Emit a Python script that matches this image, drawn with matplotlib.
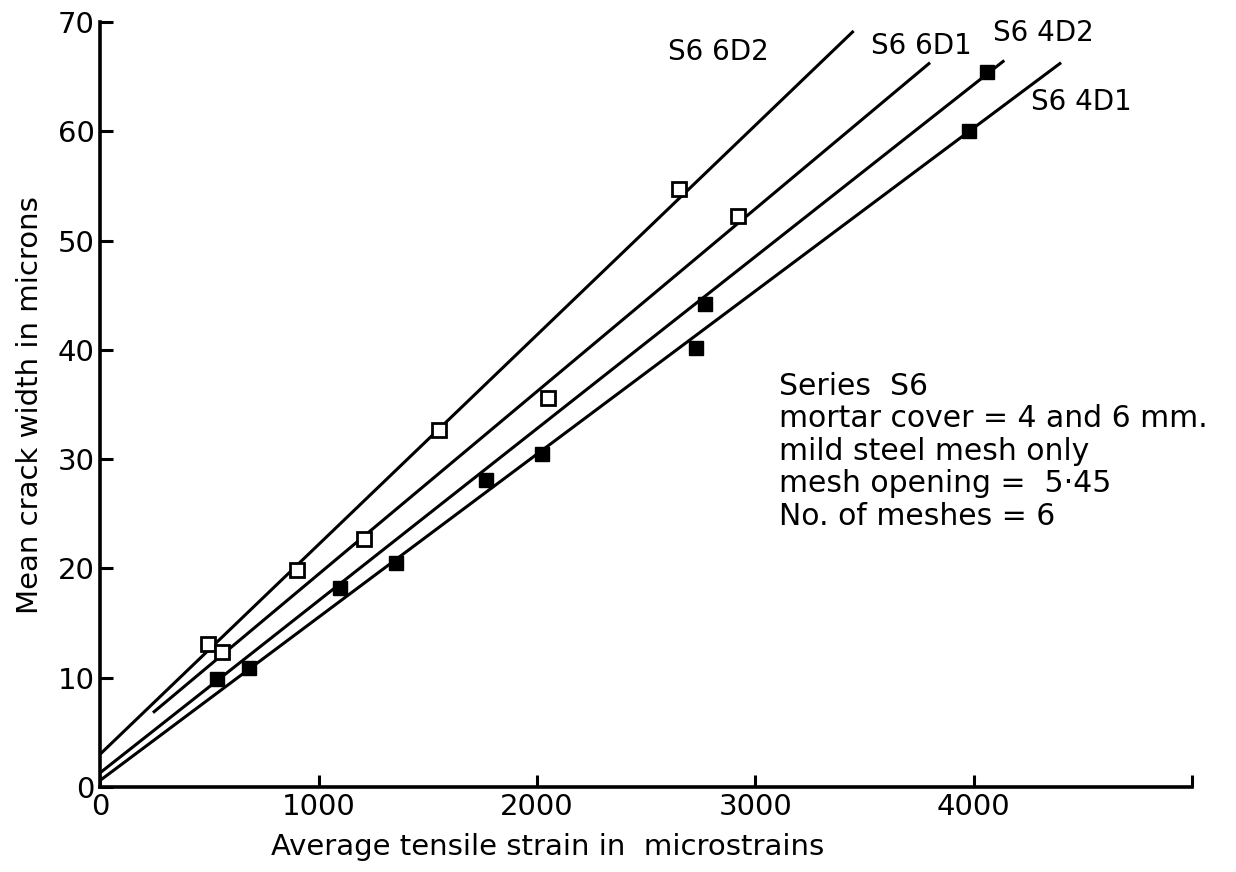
import matplotlib
matplotlib.use('Agg')
import matplotlib.pyplot as plt

# measured points (microstrain, microns)
d2_6_x = [493, 900, 1550, 2650]
d2_6_y = [13.1, 19.9, 32.7, 54.7]
d1_6_x = [560, 1210, 2050, 2920]
d1_6_y = [12.4, 22.7, 35.6, 52.3]
d2_4_x = [533, 1100, 1766, 2770, 4060]
d2_4_y = [9.9, 18.2, 28.1, 44.2, 65.4]
d1_4_x = [681, 1356, 2021, 2730, 3977]
d1_4_y = [10.9, 20.5, 30.5, 40.2, 60.0]

# hand-drawn fit lines (end points)
fit_6d2 = ([0, 3450], [3.0, 69.2])
fit_6d1 = ([242, 3800], [6.8, 66.3])
fit_4d2 = ([0, 4140], [1.3, 66.5])
fit_4d1 = ([0, 4400], [0.6, 66.3])

line_labels = ['S6 6D2', 'S6 6D1', 'S6 4D2', 'S6 4D1']
label_pos = [(2600, 67.3), (3530, 67.8), (4090, 69.0), (4260, 62.7)]

note = ('Series  S6\nmortar cover = 4 and 6 mm.\nmild steel mesh only\n'
        'mesh opening =  5·45\nNo. of meshes = 6')

xticks = [0, 1000, 2000, 3000, 4000, 5000]
xticklabels = ['0', '1000', '2000', '3000', '4000', '']
yticks = [0, 10, 20, 30, 40, 50, 60, 70]

fig = plt.figure(figsize=(12.36, 8.72), dpi=100)
fig.patch.set_facecolor('white')
ax = fig.add_axes([0.081, 0.0975, 0.8835, 0.877])

K = 'black'
for fx, fy in [fit_6d2, fit_6d1, fit_4d2, fit_4d1]:
    ax.plot(fx, fy, color=K, lw=2.2, solid_capstyle='butt', zorder=2)

ms = 10
ax.plot(d2_6_x, d2_6_y, 's', ms=ms, mfc='white', mec=K, mew=2, zorder=3)
ax.plot(d1_6_x, d1_6_y, 's', ms=ms, mfc='white', mec=K, mew=2, zorder=3)
ax.plot(d2_4_x, d2_4_y, 's', ms=ms, mfc=K, mec=K, zorder=3)
ax.plot(d1_4_x, d1_4_y, 's', ms=ms, mfc=K, mec=K, zorder=3)

for lab, (lx, ly) in zip(line_labels, label_pos):
    ax.text(lx, ly, lab, fontsize=20, ha='left', va='center')

ax.text(3110, 38.0, note, fontsize=21.5, ha='left', va='top', linespacing=1.15)

ax.set_xlim(0, 5000)
ax.set_ylim(0, 70)
ax.set_xticks(xticks)
ax.set_xticklabels(xticklabels)
ax.set_yticks(yticks)
ax.tick_params(direction='in', length=9, width=2.2, labelsize=21, pad=4)
for s in ['top', 'right']:
    ax.spines[s].set_visible(False)
for s in ['left', 'bottom']:
    ax.spines[s].set_linewidth(2.6)

ax.set_xlabel('Average tensile strain in  microstrains', fontsize=21, labelpad=12)
ax.xaxis.set_label_coords(0.41, -0.06)
ax.set_ylabel('Mean crack width in microns', fontsize=21, labelpad=10)

plt.savefig('out.png', dpi=100, facecolor='white')
